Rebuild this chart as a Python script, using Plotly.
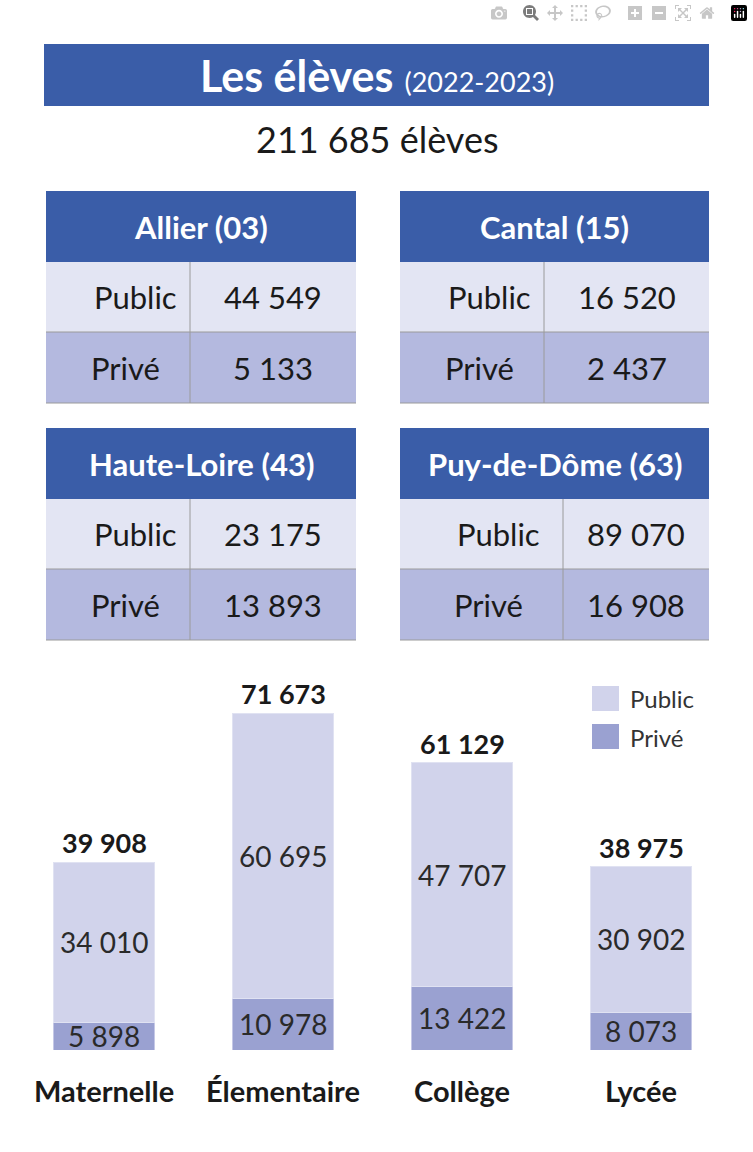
import plotly.graph_objects as go

W, H = 753, 1152
categories = ["Maternelle", "Élementaire", "Collège", "Lycée"]
public_vals = [34010, 60695, 47707, 30902]
prive_vals = [5898, 10978, 13422, 8073]
totals = [39908, 71673, 61129, 38975]

depts = ["Allier (03)", "Cantal (15)", "Haute-Loire (43)", "Puy-de-Dôme (63)"]
dept_public = ["44 549", "16 520", "23 175", "89 070"]
dept_prive = ["5 133", "2 437", "13 893", "16 908"]
total_label = "211 685 élèves"

def fmt(v):
    return f"{v:,}".replace(",", " ")

BLUE = "#3A5DA8"
ROW_PUB = "#E3E5F3"
ROW_PRI = "#B4B9DF"
BAR_PUB = "#D1D3EB"
BAR_PRI = "#9AA1D1"
FONT = "Lato"

def px(x): return x / W
def py(y): return 1 - y / H

shapes, ann = [], []
def rect(x0, y0, x1, y1, color, line=None):
    shapes.append(dict(type="rect", xref="paper", yref="paper", x0=px(x0), x1=px(x1),
                       y0=py(y1), y1=py(y0), fillcolor=color,
                       line=dict(width=1 if line else 0, color=line or color), layer="below"))
def text(x, y, t, size, color="#1a1a1a", bold=False, xanchor="center"):
    if bold:
        t = f"<b>{t}</b>"
    ann.append(dict(xref="paper", yref="paper", x=px(x), y=py(y), text=t, showarrow=False,
                    xanchor=xanchor, yanchor="middle", font=dict(family=FONT, size=size, color=color)))

# Title
rect(44, 44, 709, 106, BLUE)
text(377, 76, "<b>Les élèves</b> <span style='font-size:27px'>(2022-2023)</span>", 43, "white")
text(377, 139, total_label, 36, "#1a1a1a")

# Tables
boxes = [(46, 356, 190, 191), (400, 709, 544, 191), (46, 356, 190, 428), (400, 709, 563, 428)]
for i, (x0, x1, xd, y0) in enumerate(boxes):
    rect(x0, y0, x1, y0 + 71, BLUE)
    rect(x0, y0 + 71, x1, y0 + 141, ROW_PUB)
    rect(x0, y0 + 141, x1, y0 + 212, ROW_PRI)
    shapes.append(dict(type="line", xref="paper", yref="paper", x0=px(xd), x1=px(xd),
                       y0=py(y0 + 212), y1=py(y0 + 71), line=dict(color="#9a9a9a", width=1)))
    shapes.append(dict(type="line", xref="paper", yref="paper", x0=px(x0), x1=px(x1),
                       y0=py(y0 + 141), y1=py(y0 + 141), line=dict(color="#9a9a9a", width=1)))
    shapes.append(dict(type="line", xref="paper", yref="paper", x0=px(x0), x1=px(x1),
                       y0=py(y0 + 212), y1=py(y0 + 212), line=dict(color="#9a9a9a", width=1)))
    text((x0 + x1) / 2, y0 + 36, depts[i], 31, "white", bold=True)
    text((x0 + xd) / 2 + 17, y0 + 106, "Public", 31)
    text((x0 + xd) / 2 + 7, y0 + 177, "Privé", 31)
    text((xd + x1) / 2, y0 + 106, dept_public[i], 31)
    text((xd + x1) / 2, y0 + 177, dept_prive[i], 31)

# Legend
rect(592, 686, 619, 711, BAR_PUB)
rect(592, 724, 619, 749, BAR_PRI)
text(628, 698, "Public", 24, "#333", xanchor="left")
text(628, 737, "Privé", 24, "#333", xanchor="left")

xs = list(range(len(categories)))
fig = go.Figure()
fig.add_bar(x=xs, y=prive_vals, marker=dict(color=BAR_PRI, line=dict(width=1, color="#c5c8e6")), width=0.559, name="Privé")
fig.add_bar(x=xs, y=public_vals, marker=dict(color=BAR_PUB, line=dict(width=1, color="#e0e2f2")), width=0.559, name="Public")

for i in xs:
    ann.append(dict(x=i, y=prive_vals[i] / 2, xref="x", yref="y", text=fmt(prive_vals[i]), showarrow=False,
                    font=dict(family=FONT, size=28, color="#2a2a2a")))
    ann.append(dict(x=i, y=prive_vals[i] + public_vals[i] / 2, xref="x", yref="y", text=fmt(public_vals[i]),
                    showarrow=False, font=dict(family=FONT, size=28, color="#2a2a2a")))
    ann.append(dict(x=i, y=totals[i], xref="x", yref="y", text=f"<b>{fmt(totals[i])}</b>", showarrow=False,
                    yanchor="bottom", yshift=1, font=dict(family=FONT, size=27, color="#1a1a1a")))
    ann.append(dict(x=i, y=0, xref="x", yref="y", text=f"<b>{categories[i]}</b>", showarrow=False,
                    yanchor="middle", yshift=-40, font=dict(family=FONT, size=29, color="#1a1a1a")))

fig.update_layout(
    width=W, height=H, margin=dict(l=0, r=0, t=0, b=0),
    paper_bgcolor="white", plot_bgcolor="white", barmode="stack", showlegend=False,
    shapes=shapes, annotations=ann,
    xaxis=dict(domain=[0, 1], range=[-104 / 179, (753 - 104) / 179], visible=False),
    yaxis=dict(domain=[1 - 1050 / H, 1 - 674 / H], range=[0, 80000], visible=False),
)
fig.write_html("out.html", post_script="document.body.style.margin='0';")
